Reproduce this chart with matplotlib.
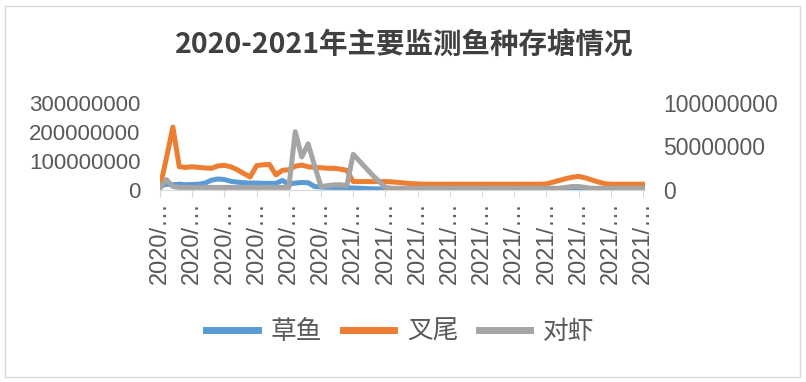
import matplotlib
matplotlib.use("Agg")
import matplotlib.pyplot as plt
from matplotlib.patches import Rectangle
from matplotlib.ticker import FuncFormatter, FixedLocator

# values in millions
grass_carp = [12, 20, 18, 20, 18, 19, 20, 24, 34, 38,
              36, 30, 27, 25, 24, 24, 23, 23, 23, 33,
              20, 24, 26, 25, 12, 10, 9, 9, 9, 8,
              7, 6, 5, 4, 4, 3, 3, 3, 3, 3,
              3, 3, 3, 3, 3, 3, 3, 3, 3, 3,
              3, 3, 3, 3, 3, 3, 3, 3, 3, 3,
              3, 3, 3, 3, 3, 3, 3, 3, 3, 3,
              3, 3, 3, 3, 3, 3]
catfish = [10, 110, 217, 80, 78, 80, 78, 76, 75, 83,
           85, 80, 70, 57, 45, 84, 87, 88, 52, 68,
           70, 82, 86, 80, 78, 77, 75, 75, 72, 68,
           29, 29, 29, 29, 29, 29, 28, 26, 24, 22,
           21, 20, 20, 20, 20, 20, 20, 20, 20, 20,
           20, 20, 20, 20, 20, 20, 20, 20, 20, 20,
           21, 27, 33, 39, 44, 47, 42, 35, 28, 22,
           20, 20, 20, 20, 20, 20]
shrimp = [2, 12, 4, 3, 3, 3, 3, 3, 3, 3,
          3, 3, 3, 3, 3, 3, 3, 3, 3, 3,
          3, 67, 38, 53, 28, 4, 5, 6, 6, 5,
          41, 33, 25, 17, 10, 3, 2, 2, 2, 2,
          2, 2, 2, 2, 2, 2, 2, 2, 2, 2,
          2, 2, 2, 2, 2, 2, 2, 2, 2, 2,
          2, 2, 2, 3, 4, 4, 3, 2, 2, 2,
          2, 2, 2, 2, 2, 2]
tick_labels = ["2020/…"] * 6 + ["2021/…"] * 10
series_names = ["草鱼", "叉尾", "对虾"]

title = "2020-2021年主要监测鱼种存塘情况"

blue = "#5B9BD5"
orange = "#ED7D31"
gray = "#A5A5A5"
txt = "#595959"

fig = plt.figure(figsize=(8.06, 3.82), dpi=100)
fig.patches.append(Rectangle((5 / 806, 5 / 382), 795 / 806, 371 / 382,
                             transform=fig.transFigure, fill=False,
                             edgecolor="#D9D9D9", lw=1))

ax = fig.add_axes([160 / 806, 1 - 190 / 382, 485 / 806, 87 / 382])
ax2 = ax.twinx()

x = list(range(len(catfish)))
l1, = ax.plot(x, [v * 1e6 for v in grass_carp], color=blue, lw=3.6,
              solid_joinstyle="round")
l2, = ax.plot(x, [v * 1e6 for v in catfish], color=orange, lw=3.6,
              solid_joinstyle="round")
l3, = ax2.plot(x, [v * 1e6 for v in shrimp], color=gray, lw=3.6,
               solid_joinstyle="round")

ax.set_xlim(0, 75.3)
ax.set_ylim(0, 300e6)
ax2.set_ylim(0, 100e6)
ax.set_yticks([0, 100e6, 200e6, 300e6])
ax2.set_yticks([0, 50e6, 100e6])
fmt = FuncFormatter(lambda v, p: "%d" % v)
ax.yaxis.set_major_formatter(fmt)
ax2.yaxis.set_major_formatter(fmt)

ax.xaxis.set_major_locator(FixedLocator(list(range(0, 76, 5))))
ax.set_xticklabels(tick_labels, rotation=90, va="top", ha="center")

for a in (ax, ax2):
    for s in a.spines.values():
        s.set_visible(False)
ax.spines["bottom"].set_visible(True)
ax.spines["bottom"].set_color("#D9D9D9")

ax.tick_params(axis="x", length=5, color="#D9D9D9", pad=3,
               labelsize=17, labelcolor=txt)
ax.tick_params(axis="y", length=0, pad=14, labelsize=16, labelcolor=txt)
ax2.tick_params(axis="y", length=0, pad=13, labelsize=16.5, labelcolor=txt)
for lab in ax.get_xticklabels() + ax.get_yticklabels() + ax2.get_yticklabels():
    lab.set_family(["Liberation Sans", "DejaVu Sans"])

fig.text(0.502, 0.882, title, ha="center", va="center", fontsize=20.5,
         fontweight="bold", color="#404040",
         family=["Noto Sans CJK SC", "DejaVu Sans"])

leg = fig.legend([l1, l2, l3], series_names, loc="center",
                 bbox_to_anchor=(0.497, 0.131), ncol=3, frameon=False,
                 handlelength=2.0, columnspacing=0.8, handletextpad=0.5,
                 prop={"family": "Noto Sans CJK SC", "size": 18.5})
for t in leg.get_texts():
    t.set_color(txt)
for h in leg.legend_handles:
    h.set_linewidth(5)

fig.savefig("out.png", dpi=100)
